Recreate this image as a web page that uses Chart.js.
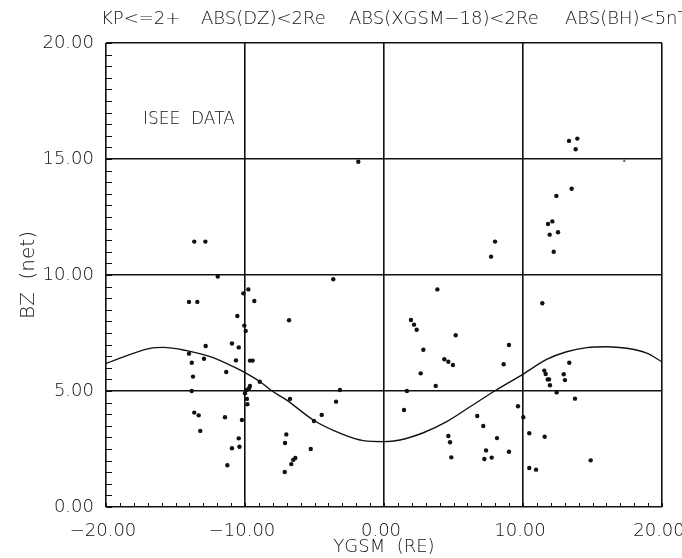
<!DOCTYPE html>
<html>
<head>
<meta charset="utf-8">
<script src="https://cdn.jsdelivr.net/npm/chart.js@4.4.1/dist/chart.umd.min.js"></script>
<style>
html,body{margin:0;padding:0;background:#fff;}
#wrap{width:682px;height:558px;position:relative;}
</style>
</head>
<body>
<div id="wrap"><canvas id="c" width="682" height="558"></canvas></div>
<script>
// ---- data ----
const pointX = [
 -13.65,-12.85,-1.85,-11.96,-3.65,
 -14.03,-13.43,-10.12,-9.76,-9.33,-10.55,-10.05,-9.95,-6.83,-10.94,-10.45,-12.83,-14.03,-12.95,-13.83,
 -10.65,-9.64,-9.45,-11.35,-13.74,-8.94,-13.83,-10.0,-9.88,-9.71,-9.64,-9.86,-9.83,-6.76,-3.17,-3.45,
 -4.48,-5.04,-13.65,-13.33,-11.44,-10.22,-13.22,-10.45,-10.4,-10.94,-11.27,-7.03,-7.12,-5.27,-6.38,
 -6.53,-6.67,-7.14,
 13.31,13.91,13.79,13.50,12.40,11.80,12.11,11.92,12.52,12.21,7.99,7.70,
 3.84,11.39,1.94,2.16,2.35,5.16,8.99,2.83,4.34,4.63,4.96,8.61,2.64,3.72,1.65,1.44,13.33,11.53,11.63,
 11.78,11.87,11.94,12.93,13.02,12.42,13.74,9.64,10.02,6.71,7.14,4.63,4.75,4.84,8.13,7.34,7.22,7.75,
 8.99,10.45,11.56,10.45,10.94,14.87
];
const pointY = [
 11.44,11.44,14.88,9.93,9.82,
 8.84,8.84,9.21,9.38,8.88,8.23,7.82,7.59,8.05,7.05,6.88,6.94,6.61,6.39,6.22,
 6.32,6.31,6.31,5.82,5.62,5.40,5.00,4.90,5.04,5.12,5.22,4.66,4.43,4.66,5.04,4.54,
 3.97,3.71,4.07,3.95,3.87,3.75,3.28,2.96,2.60,2.53,1.80,3.13,2.76,2.50,2.11,
 2.03,1.85,1.51,
 15.78,15.88,15.42,13.72,13.41,12.20,12.31,11.74,11.84,11.00,11.44,10.79,
 9.38,8.78,8.06,7.86,7.64,7.40,6.98,6.78,6.37,6.26,6.12,6.15,5.76,5.22,5.00,4.18,6.22,5.88,5.73,
 5.50,5.50,5.25,5.72,5.47,4.94,4.67,4.34,3.87,3.92,3.49,3.06,2.79,2.14,2.97,2.44,2.07,2.13,
 2.38,3.18,3.03,1.68,1.61,2.01
];
const extraX = [17.29];
const extraY = [14.92];
const curveX = [-20,-16.83,-15.9,-14.2,-12.5,-10.84,-10,-8.92,-8.08,-7.0,-5.09,-3.17,-1.49,0,
                1.15,2.83,4.51,6.19,7.99,10.02,11.7,13.14,14.58,16.02,17.46,18.9,20];
const curveY = [6.19,6.84,6.88,6.74,6.48,6.05,5.79,5.40,5.01,4.61,3.75,3.18,2.86,2.82,
                2.89,3.20,3.68,4.32,5.01,5.73,6.36,6.69,6.87,6.91,6.84,6.63,6.26];
const xMin = -20, xMax = 20, xMajor = 10, xMinor = 1;
const yMin = 0, yMax = 20, yMajor = 5, yMinor = 0.5;
const titleParts = ['KP<=2+', 'ABS(DZ)<2Re', 'ABS(XGSM\u221218)<2Re', 'ABS(BH)<5nT'];
const titleX = [101, 201, 349, 565];
const noteText = 'ISEE  DATA';
const noteAt = [-17.34, 16.7];
const xTitle = 'YGSM  (RE)';
const yTitle = 'BZ  (net)';

const FONT = "'DejaVu Sans'";
const fmt = v => v.toFixed(2).replace('-', '\u2212');
const isMul = (v, m) => Math.abs(v / m - Math.round(v / m)) < 1e-6;

const extrasPlugin = {
  id: 'extras',
  afterDraw(chart) {
    const ctx = chart.ctx, a = chart.chartArea;
    const xs = chart.scales.x, ys = chart.scales.y;
    ctx.save();
    ctx.strokeStyle = '#111';
    ctx.lineWidth = 1;
    for (let v = xMin; v <= xMax + 1e-9; v += xMinor) {
      const p = Math.round(xs.getPixelForValue(v)) + 0.5;
      ctx.beginPath(); ctx.moveTo(p, a.bottom); ctx.lineTo(p, a.bottom - 4); ctx.stroke();
    }
    for (let v = yMin; v <= yMax + 1e-9; v += yMinor) {
      const p = Math.round(ys.getPixelForValue(v)) + 0.5;
      ctx.beginPath(); ctx.moveTo(a.left, p); ctx.lineTo(a.left + 6, p); ctx.stroke();
    }
    ctx.fillStyle = '#111';
    ctx.textBaseline = 'middle';
    ctx.textAlign = 'left';
    ctx.font = '200 18px ' + FONT;
    titleParts.forEach((t, i) => ctx.fillText(t, titleX[i], 19));
    ctx.font = '200 17px ' + FONT;
    ctx.fillText(noteText, xs.getPixelForValue(noteAt[0]), ys.getPixelForValue(noteAt[1]));
    ctx.restore();
  }
};

new Chart(document.getElementById('c'), {
  type: 'scatter',
  data: {
    datasets: [
      {
        label: 'ISEE',
        data: pointX.map((x, i) => ({x, y: pointY[i]})),
        pointRadius: 2.2, pointHoverRadius: 2.2,
        backgroundColor: '#111', borderColor: '#111', borderWidth: 0,
        showLine: false
      },
      {
        label: 'mark',
        data: extraX.map((x, i) => ({x, y: extraY[i]})),
        pointStyle: 'triangle', pointRadius: 1.8,
        backgroundColor: '#555', borderColor: '#555', borderWidth: 0, showLine: false
      },
      {
        label: 'model',
        data: curveX.map((x, i) => ({x, y: curveY[i]})),
        showLine: true, pointRadius: 0, borderColor: '#111', borderWidth: 1.4,
        tension: 0.4, cubicInterpolationMode: 'monotone', fill: false
      }
    ]
  },
  options: {
    responsive: false, animation: false,
    devicePixelRatio: 1,
    layout: { padding: { top: 43, right: 20, left: 0, bottom: 0 } },
    plugins: { legend: { display: false }, tooltip: { enabled: false }, title: { display: false } },
    scales: {
      x: {
        type: 'linear', min: xMin, max: xMax,
        afterFit(s) { s.height = 51; s.paddingLeft = 0; s.paddingRight = 0; },
        border: { display: false },
        grid: {
          drawTicks: false,
          color: c => isMul(c.tick.value, xMajor) ? '#111' : 'rgba(0,0,0,0)',
          lineWidth: 1.6
        },
        ticks: {
          stepSize: xMinor, autoSkip: false, maxRotation: 0, padding: 14, labelOffset: -3,
          color: '#111', font: { family: FONT, size: 18, weight: '200' },
          callback: v => isMul(v, xMajor) ? fmt(v) : ''
        },
        title: {
          display: true, text: xTitle, color: '#111',
          font: { family: FONT, size: 18, weight: '200' },
          padding: { top: 0, bottom: 0 }
        }
      },
      y: {
        type: 'linear', min: yMin, max: yMax,
        afterFit(s) { s.width = 106; s.paddingTop = 0; s.paddingBottom = 0; },
        border: { display: false },
        grid: {
          drawTicks: false,
          color: c => isMul(c.tick.value, yMajor) ? '#111' : 'rgba(0,0,0,0)',
          lineWidth: 1.6
        },
        ticks: {
          stepSize: yMinor, autoSkip: false, padding: 12,
          color: '#111', font: { family: FONT, size: 18, weight: '200' },
          callback: v => isMul(v, yMajor) ? fmt(v) : ''
        },
        title: {
          display: true, text: yTitle, color: '#111',
          font: { family: FONT, size: 20, weight: '200' },
          padding: { top: 17, bottom: 0 }
        }
      }
    }
  },
  plugins: [extrasPlugin]
});
</script>
</body>
</html>
